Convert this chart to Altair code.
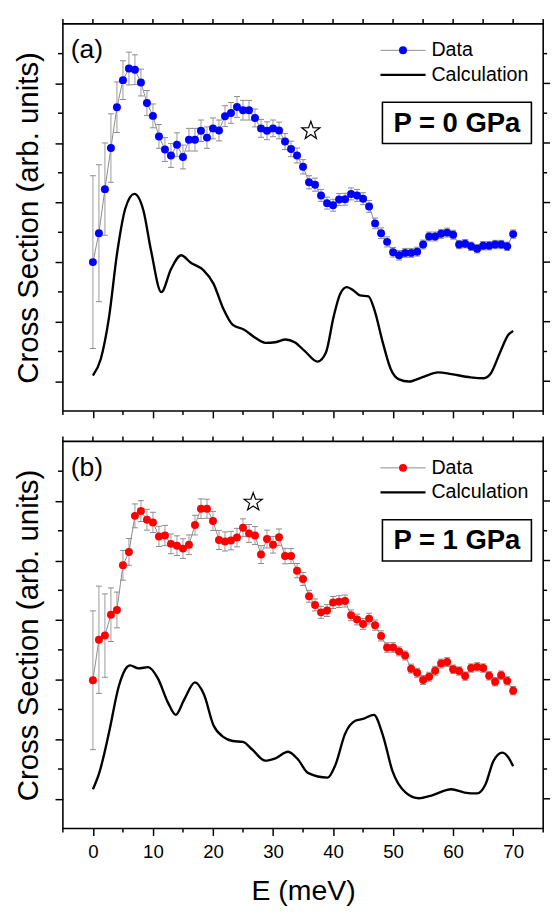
import altair as alt
import pandas as pd

# ---------------- data ----------------
E = list(range(0, 71))

data_a = [5.00, 5.97, 7.45, 8.83, 10.20, 11.11, 11.50, 11.46, 11.03, 10.34,
          9.91, 9.22, 8.78, 8.58, 8.94, 8.53, 9.11, 9.11, 9.41, 9.18,
          9.49, 9.42, 9.90, 10.01, 10.21, 10.10, 10.10, 9.84, 9.49, 9.41,
          9.49, 9.42, 9.05, 8.80, 8.58, 8.20, 7.68, 7.60, 7.24, 6.98,
          6.91, 7.10, 7.11, 7.29, 7.24, 7.13, 6.87, 6.30, 5.97, 5.68,
          5.33, 5.23, 5.31, 5.31, 5.35, 5.59, 5.86, 5.86, 5.95, 5.99,
          5.92, 5.59, 5.62, 5.53, 5.45, 5.55, 5.55, 5.59, 5.59, 5.53,
          5.94]
err_a = [2.90, 2.30, 1.55, 1.15, 0.85, 0.65, 0.55, 0.50, 0.45, 0.42,
         0.40, 0.40, 0.40, 0.40, 0.40, 0.40, 0.38, 0.38, 0.36, 0.36,
         0.35, 0.35, 0.35, 0.35, 0.35, 0.33, 0.33, 0.30, 0.30, 0.30,
         0.28, 0.28, 0.27, 0.26, 0.25, 0.24, 0.22, 0.22, 0.20, 0.20,
         0.20, 0.20, 0.20, 0.20, 0.20, 0.20, 0.20, 0.18, 0.18, 0.17,
         0.16, 0.16, 0.15, 0.15, 0.15, 0.15, 0.15, 0.15, 0.15, 0.15,
         0.15, 0.14, 0.14, 0.14, 0.14, 0.14, 0.14, 0.14, 0.14, 0.14,
         0.14]
calc_a_E = [0, 1.3, 2.7, 4.0, 5.4, 6.9, 8.4, 9.7, 11.4, 13.0, 14.7, 16.3, 18.4,
            20.1, 21.7, 23.3, 25.2, 27.1, 28.7, 30.4, 32.1, 33.6, 35.3, 37.4,
            38.8, 40.1, 41.2, 42.3, 43.4, 44.5, 45.9, 46.9, 48.3, 49.6, 51.0,
            52.6, 54.8, 57.5, 59.7, 62.9, 65.1, 66.2, 67.8, 69.2, 70.0]
calc_a = [1.19, 1.74, 3.17, 5.26, 6.80, 7.29, 6.74, 5.37, 3.99, 4.76, 5.23, 4.98, 4.73,
          4.27, 3.44, 2.89, 2.73, 2.45, 2.29, 2.31, 2.40, 2.31, 2.01, 1.66,
          1.96, 3.17, 3.94, 4.16, 4.05, 3.88, 3.85, 3.39, 2.29, 1.41, 1.06,
          0.99, 1.13, 1.30, 1.24, 1.13, 1.10, 1.24, 1.96, 2.56, 2.69]

data_b = [4.98, 6.34, 6.48, 7.18, 7.34, 8.84, 9.29, 10.50, 10.66, 10.37,
          10.28, 9.81, 9.84, 9.56, 9.50, 9.40, 9.53, 10.19, 10.74, 10.74,
          10.33, 9.69, 9.64, 9.67, 9.77, 10.10, 9.91, 9.84, 9.20, 9.72,
          9.53, 9.78, 9.15, 9.15, 8.66, 8.38, 7.80, 7.51, 7.26, 7.32,
          7.59, 7.62, 7.64, 7.16, 7.02, 6.87, 7.05, 6.83, 6.47, 6.08,
          6.08, 5.95, 5.81, 5.37, 5.23, 4.99, 5.10, 5.30, 5.54, 5.59,
          5.35, 5.29, 5.12, 5.39, 5.43, 5.39, 5.13, 4.93, 5.15, 4.96,
          4.63]
err_b = [2.33, 1.80, 1.40, 0.90, 0.60, 0.50, 0.45, 0.40, 0.35, 0.35,
         0.34, 0.34, 0.34, 0.33, 0.33, 0.33, 0.33, 0.33, 0.33, 0.32,
         0.32, 0.32, 0.32, 0.31, 0.31, 0.30, 0.30, 0.30, 0.30, 0.30,
         0.28, 0.28, 0.26, 0.25, 0.24, 0.22, 0.20, 0.20, 0.20, 0.20,
         0.20, 0.20, 0.20, 0.18, 0.18, 0.18, 0.18, 0.17, 0.17, 0.16,
         0.16, 0.15, 0.15, 0.15, 0.15, 0.15, 0.15, 0.15, 0.15, 0.15,
         0.14, 0.14, 0.14, 0.14, 0.14, 0.14, 0.14, 0.14, 0.14, 0.14,
         0.14]
calc_b_E = [0, 1.06, 2.7, 4.3, 5.7, 6.2, 7.6, 9.2, 10.8, 12.5, 13.8, 15.2, 17.0,
            18.5, 20.1, 21.7, 23.3, 25.0, 26.6, 28.7, 30.4, 32.5, 34.2, 35.8,
            39.1, 40.4, 42.0, 43.7, 45.0, 46.8, 48.3, 49.9, 52.1, 54.3, 56.4,
            59.7, 61.9, 64.0, 65.4, 66.7, 68.2, 69.3, 70.0]
calc_b = [1.32, 1.87, 3.24, 4.77, 5.43, 5.48, 5.38, 5.42, 5.05, 4.23, 3.82, 4.33, 4.91,
          4.50, 3.46, 3.08, 2.94, 2.91, 2.64, 2.28, 2.36, 2.58, 2.31, 1.87,
          1.71, 2.14, 3.18, 3.62, 3.68, 3.82, 3.13, 1.93, 1.21, 1.02, 1.11,
          1.32, 1.21, 1.18, 1.49, 2.26, 2.55, 2.36, 2.09]

star_a = (36.3, 9.41)
star_b = (26.7, 10.96)

x_major = list(range(0, 80, 10))
x_minor = list(range(-5, 80, 10))
x_all = list(range(-5, 80, 5))
y_major = [1, 3, 5, 7, 9, 11]
y_minor = [2, 4, 6, 8, 10, 12]

STAR = ("M0,-1L0.235,-0.324L0.951,-0.309L0.380,0.124L0.588,0.809L0,0.4"
        "L-0.588,0.809L-0.380,0.124L-0.951,-0.309L-0.235,-0.324Z")

FONT = "Liberation Sans"
W, H = 490, 395


def panel(vals, errs, cE, cV, color, star, tag, ptext, bottom):
    df = pd.DataFrame({"E": E, "v": vals,
                       "lo": [v - e for v, e in zip(vals, errs)],
                       "hi": [v + e for v, e in zip(vals, errs)],
                       "e0": [x - 0.5 for x in E], "e1": [x + 0.5 for x in E]})
    cdf = pd.DataFrame({"E": cE, "v": cV})
    sdf = pd.DataFrame({"E": [star[0]], "v": [star[1]]})
    one = pd.DataFrame({"k": [0]})
    xmin_df = pd.DataFrame({"t": x_minor})
    xall_df = pd.DataFrame({"t": x_all})
    ymaj_df = pd.DataFrame({"t": y_major})
    ymin_df = pd.DataFrame({"t": y_minor})

    xs = alt.Scale(domain=[-5, 75], nice=False, zero=False)
    ys = alt.Scale(domain=[0, 13], nice=False, zero=False)

    xaxis = alt.Axis(values=x_major, tickSize=7, tickColor="black", tickWidth=1.5,
                     domain=False, grid=False,
                     labels=bottom, labelFontSize=19, labelColor="black",
                     labelPadding=8, labelOverlap=False, labelFlush=False,
                     title="E (meV)" if bottom else "",
                     titleFontSize=29, titleFontWeight="normal", titleColor="black",
                     titlePadding=15)
    yaxis = alt.Axis(values=y_major, tickSize=8, tickColor="black", tickWidth=1.5,
                     domain=False, grid=False, labels=False,
                     title="Cross Section (arb. units)", titleFontSize=30,
                     titleFontWeight="normal", titleColor="black", titlePadding=11)

    X = lambda f: alt.X(f, scale=xs, axis=xaxis)
    Y = lambda f: alt.Y(f, scale=ys, axis=yaxis)

    calc = alt.Chart(cdf).mark_line(color="black", strokeWidth=2.4,
                                    interpolate="monotone").encode(
        x=X("E:Q"), y=Y("v:Q"))

    # extra frame ticks (minor / mirrored)
    t_bot = alt.Chart(xmin_df).mark_rule(color="black", strokeWidth=1.5).encode(
        x=X("t:Q"), y=alt.value(H), y2=alt.value(H + 4))
    t_top = alt.Chart(xall_df).mark_rule(color="black", strokeWidth=1.5).encode(
        x=X("t:Q"), y=alt.value(0), y2=alt.value(-5))
    t_lmin = alt.Chart(ymin_df).mark_rule(color="black", strokeWidth=1.5).encode(
        y=Y("t:Q"), x=alt.value(0), x2=alt.value(-5))
    t_rmaj = alt.Chart(ymaj_df).mark_rule(color="black", strokeWidth=1.5).encode(
        y=Y("t:Q"), x=alt.value(W), x2=alt.value(W + 7))
    t_rmin = alt.Chart(ymin_df).mark_rule(color="black", strokeWidth=1.5).encode(
        y=Y("t:Q"), x=alt.value(W), x2=alt.value(W + 4))

    ebar = alt.Chart(df).mark_rule(color="#9a9a9a", strokeWidth=1).encode(
        x=X("E:Q"), y=Y("lo:Q"), y2="hi:Q")
    cap_lo = alt.Chart(df).mark_rule(color="#8a8a8a", strokeWidth=1).encode(
        x=X("e0:Q"), x2="e1:Q", y=Y("lo:Q"))
    cap_hi = alt.Chart(df).mark_rule(color="#8a8a8a", strokeWidth=1).encode(
        x=X("e0:Q"), x2="e1:Q", y=Y("hi:Q"))
    conn = alt.Chart(df).mark_line(color="#8a8a8a", strokeWidth=1).encode(
        x=X("E:Q"), y=Y("v:Q"))
    pts = alt.Chart(df).mark_circle(color=color, size=66, opacity=1).encode(
        x=X("E:Q"), y=Y("v:Q"))
    st = alt.Chart(sdf).mark_point(shape=STAR, size=380, filled=True,
                                   fill="white", stroke="black",
                                   strokeWidth=1.2, opacity=1).encode(
        x=X("E:Q"), y=Y("v:Q"))

    # legend / annotations (pixel placement)
    lg_line = alt.Chart(one).mark_rule(color="#8a8a8a", strokeWidth=1).encode(
        x=alt.value(324), x2=alt.value(370), y=alt.value(27))
    lg_dot = alt.Chart(one).mark_circle(color=color, size=66, opacity=1).encode(
        x=alt.value(347), y=alt.value(27))
    lg_calc = alt.Chart(one).mark_rule(color="black", strokeWidth=2.4).encode(
        x=alt.value(324), x2=alt.value(370), y=alt.value(52))
    lg_t1 = alt.Chart(one).mark_text(font=FONT, fontSize=20, align="left",
                                     baseline="middle", color="black").encode(
        x=alt.value(376), y=alt.value(27), text=alt.value("Data"))
    lg_t2 = alt.Chart(one).mark_text(font=FONT, fontSize=20,
                                     align="left", baseline="middle",
                                     color="black").encode(
        x=alt.value(376), y=alt.value(52), text=alt.value("Calculation"))
    box = alt.Chart(one).mark_rect(fill="white", stroke="black", strokeWidth=1.6).encode(
        x=alt.value(326), x2=alt.value(478), y=alt.value(80), y2=alt.value(122))
    btxt = alt.Chart(one).mark_text(font=FONT, fontSize=28, fontWeight="bold",
                                    align="center", baseline="middle",
                                    color="black").encode(
        x=alt.value(402), y=alt.value(102), text=alt.value(ptext))
    tg = alt.Chart(one).mark_text(font=FONT, fontSize=27, align="left",
                                  baseline="middle", color="black").encode(
        x=alt.value(8), y=alt.value(27), text=alt.value(tag))

    return alt.layer(calc, t_bot, t_top, t_lmin, t_rmaj, t_rmin,
                     ebar, cap_lo, cap_hi, conn, pts, st,
                     lg_line, lg_dot, lg_calc, lg_t1, lg_t2, box, btxt, tg
                     ).properties(width=W, height=H)


pa = panel(data_a, err_a, calc_a_E, calc_a, "#0000ff", star_a, "(a)", "P = 0 GPa", False)
pb = panel(data_b, err_b, calc_b_E, calc_b, "#ff0000", star_b, "(b)", "P = 1 GPa", True)

chart = alt.vconcat(pa, pb, spacing=15).properties(
    padding={"left": 5, "top": 0, "right": 0, "bottom": 0}
).configure(font=FONT).configure_view(stroke="black", strokeWidth=1.6)

chart.save("out.html", embed_options={"renderer": "svg", "actions": False})
